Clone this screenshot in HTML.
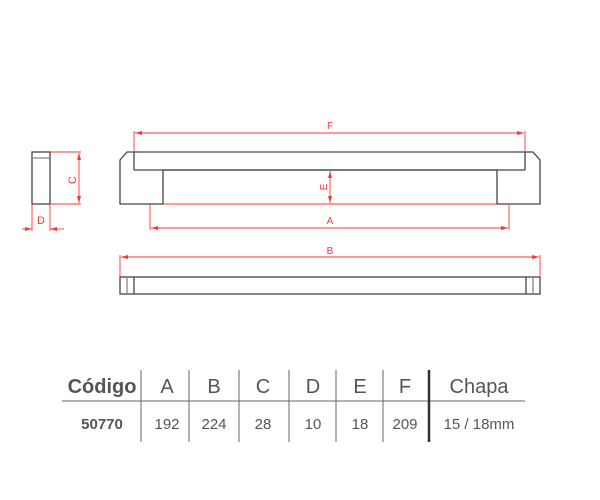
<!DOCTYPE html>
<html><head><style>
body{margin:0;background:#fff;width:600px;height:500px;overflow:hidden}
svg{position:absolute;left:0;top:0}
</style></head><body>
<svg width="600" height="500" viewBox="0 0 600 500" font-family="Liberation Sans, sans-serif">
<defs>
<marker id="ar" markerWidth="8" markerHeight="6" refX="7" refY="3" orient="auto-start-reverse" markerUnits="userSpaceOnUse"><path d="M0,1 L7,3 L0,5Z" fill="#f33"/></marker>
</defs>
<g fill="none" stroke="#444" stroke-width="1.3">
<rect x="32" y="152" width="18" height="52"/>
<line x1="32" y1="158" x2="50" y2="158" stroke="#888"/>
<path d="M127,152 L533,152 L540,160 L540,204 L497,204 L497,170 L163,170 L163,204 L120,204 L120,160 Z"/>
<line x1="134" y1="152" x2="134" y2="170"/>
<line x1="525" y1="152" x2="525" y2="170"/>
<line x1="134" y1="170" x2="525" y2="170"/>
<rect x="120" y="277" width="420" height="17"/>
<line x1="127" y1="277" x2="127" y2="294" stroke="#888"/>
<line x1="134" y1="277" x2="134" y2="294"/>
<line x1="533" y1="277" x2="533" y2="294" stroke="#888"/>
<line x1="526" y1="277" x2="526" y2="294"/>
</g>
<g stroke="#f33" stroke-width="0.9" fill="none">
<line x1="50" y1="152" x2="81" y2="152"/><line x1="50" y1="204" x2="81" y2="204"/>
<line x1="79" y1="153" x2="79" y2="203" marker-start="url(#ar)" marker-end="url(#ar)"/>
<line x1="32" y1="204" x2="32" y2="231"/><line x1="50" y1="204" x2="50" y2="231"/>
<line x1="22" y1="229" x2="32" y2="229" marker-end="url(#ar)"/>
<line x1="64" y1="229" x2="50" y2="229" marker-end="url(#ar)"/>
<line x1="134" y1="131" x2="134" y2="152"/><line x1="525" y1="131" x2="525" y2="152"/>
<line x1="135" y1="133" x2="524" y2="133" marker-start="url(#ar)" marker-end="url(#ar)"/>
<line x1="150" y1="204" x2="150" y2="230"/><line x1="509" y1="204" x2="509" y2="230"/>
<line x1="151" y1="228" x2="508" y2="228" marker-start="url(#ar)" marker-end="url(#ar)"/>
<line x1="163" y1="204" x2="497" y2="204"/>
<line x1="330" y1="171" x2="330" y2="203" marker-start="url(#ar)" marker-end="url(#ar)"/>
<line x1="120" y1="255" x2="120" y2="277"/><line x1="540" y1="255" x2="540" y2="277"/>
<line x1="121" y1="257" x2="539" y2="257" marker-start="url(#ar)" marker-end="url(#ar)"/>
</g>
<g fill="#f33" font-size="10">
<text x="330" y="129" text-anchor="middle">F</text>
<text x="330" y="224" text-anchor="middle">A</text>
<text x="330" y="254" text-anchor="middle">B</text>
<text x="41" y="224" text-anchor="middle" font-size="11">D</text>
<text transform="translate(76,180) rotate(-90)" text-anchor="middle" font-size="11">C</text>
<text transform="translate(327,187) rotate(-90)" text-anchor="middle">E</text>
</g>
<g stroke="#666" stroke-width="1">
<line x1="62" y1="401" x2="525" y2="401"/>
<line x1="141" y1="370" x2="141" y2="442"/>
<line x1="189" y1="370" x2="189" y2="442"/>
<line x1="239" y1="370" x2="239" y2="442"/>
<line x1="289" y1="370" x2="289" y2="442"/>
<line x1="336" y1="370" x2="336" y2="442"/>
<line x1="383" y1="370" x2="383" y2="442"/>
<line x1="429" y1="370" x2="429" y2="442" stroke="#333" stroke-width="2.5"/>
</g>
<g fill="#555" text-anchor="middle" font-size="20">
<text x="102" y="393" font-weight="bold">Código</text>
<text x="167" y="393">A</text>
<text x="214" y="393">B</text>
<text x="263" y="393">C</text>
<text x="313" y="393">D</text>
<text x="360" y="393">E</text>
<text x="405" y="393">F</text>
<text x="479" y="393">Chapa</text>
</g>
<g fill="#555" text-anchor="middle" font-size="15">
<text x="102" y="429" font-weight="bold">50770</text>
<text x="167" y="429">192</text>
<text x="214" y="429">224</text>
<text x="263" y="429">28</text>
<text x="313" y="429">10</text>
<text x="360" y="429">18</text>
<text x="405" y="429">209</text>
<text x="479" y="429">15 / 18mm</text>
</g>
</svg>
</body></html>
